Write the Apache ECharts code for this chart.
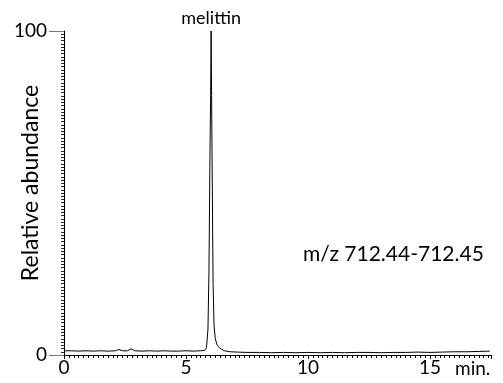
<!DOCTYPE html>
<html>
<head>
<meta charset="utf-8">
<script src="https://cdn.jsdelivr.net/npm/echarts@6/dist/echarts.min.js"></script>
<style>
  html, body { margin: 0; padding: 0; background: #fff; }
  #chart { width: 503px; height: 383px; }
</style>
</head>
<body>
<div id="chart"></div>
<script>
// retention time (min) and relative abundance (%)
const times = [0, 0.3, 0.6, 0.9, 1.2, 1.5, 1.8, 2.1, 2.25, 2.4, 2.6, 2.75, 2.9, 3.2, 3.5, 3.8, 4.1, 4.4, 4.7, 5.0, 5.3, 5.6,
  5.76, 5.84, 5.9, 5.94, 5.98, 6.01, 6.03, 6.05, 6.08, 6.11, 6.15, 6.2, 6.28, 6.4, 6.58,
  6.8, 7.1, 7.5, 8, 8.5, 9, 9.5, 10, 10.5, 11, 11.5, 12, 12.5, 13, 13.5, 14, 14.5, 15, 15.5, 16, 16.5, 17, 17.45];
const abundance = [1.3, 1.3, 1.2, 1.3, 1.2, 1.3, 1.2, 1.3, 1.7, 1.3, 1.3, 1.9, 1.3, 1.2, 1.3, 1.2, 1.3, 1.2, 1.2, 1.3, 1.2, 1.3,
  1.4, 2.2, 8, 25, 60, 80, 100, 80, 50, 22, 9, 5, 3, 2, 1.3,
  1.0, 0.9, 0.8, 0.8, 0.7, 0.8, 0.7, 0.8, 0.7, 0.8, 0.7, 0.8, 0.8, 0.7, 0.8, 0.8, 0.9, 0.8, 0.9, 1.0, 1.0, 1.1, 1.2];
const xTicks = [0, 5, 10, 15];
const yTicks = [0, 100];
const peakLabel = 'melittin';
const mzLabel = 'm/z 712.44-712.45';

const chart = echarts.init(document.getElementById('chart'));
const font = 'Lato';

const option = {
  animation: false,
  grid: { left: 64, right: 12, top: 31, bottom: 28, containLabel: false, outerBoundsMode: 'none' },
  xAxis: [
    {
      // fine ticks every 0.2 min (series axis)
      type: 'value', min: 0, max: 17.5, interval: 0.2, position: 'bottom',
      axisLine: { show: true, lineStyle: { color: '#000', width: 1 } },
      axisTick: { show: true, length: 3, lineStyle: { color: '#000', width: 1 } },
      splitLine: { show: false },
      axisLabel: { show: false }
    },
    {
      // labelled axis
      type: 'value', min: 0, max: 17.5, interval: 5, position: 'bottom', offset: 0,
      axisLine: { show: false },
      axisTick: { show: true, length: 4, lineStyle: { color: '#000' } },
      splitLine: { show: false },
      axisLabel: {
        color: '#000', fontFamily: font, fontSize: 19, margin: 3,
        formatter: v => xTicks.includes(v) ? String(v) : ''
      }
    }
  ],
  yAxis: [
    {
      // fine ticks every 1 % (series axis)
      type: 'value', min: 0, max: 100, interval: 1, position: 'left',
      axisLine: { show: true, lineStyle: { color: '#000', width: 1 } },
      axisTick: { show: true, length: 3, lineStyle: { color: '#222', width: 1 } },
      splitLine: { show: false },
      axisLabel: { show: false }
    },
    {
      type: 'value', min: 0, max: 100, interval: 100, position: 'left', offset: 0,
      name: 'Relative abundance',
      nameLocation: 'middle',
      nameGap: 22,
      nameMoveOverlap: false,
      nameTextStyle: { color: '#000', fontFamily: font, fontSize: 23, padding: [0, 0, 0, 20] },
      axisLine: { show: false },
      axisTick: { show: true, length: 15, lineStyle: { color: '#777' } },
      splitLine: { show: false },
      axisLabel: {
        color: '#000', fontFamily: font, fontSize: 19, margin: 17,
        formatter: v => yTicks.includes(v) ? String(v) : ''
      }
    }
  ],
  graphic: [
    {
      type: 'text', left: 455, top: 359,
      style: { text: 'min.', fill: '#000', font: '19px ' + font }
    },
    {
      type: 'text', left: 303, top: 244,
      style: { text: mzLabel, fill: '#000', font: '21px ' + font }
    }
  ],
  series: [{
    type: 'line',
    xAxisIndex: 0,
    yAxisIndex: 0,
    data: times.map((t, i) => [t, abundance[i]]),
    showSymbol: false,
    lineStyle: { color: '#000', width: 1 },
    markPoint: {
      symbol: 'rect', symbolSize: 1,
      itemStyle: { color: 'transparent' },
      label: { show: true, position: 'top', distance: 3, color: '#000', fontFamily: font, fontSize: 18, formatter: peakLabel },
      data: [{ coord: [6.03, 100] }]
    }
  }]
};

chart.setOption(option);
</script>
</body>
</html>
